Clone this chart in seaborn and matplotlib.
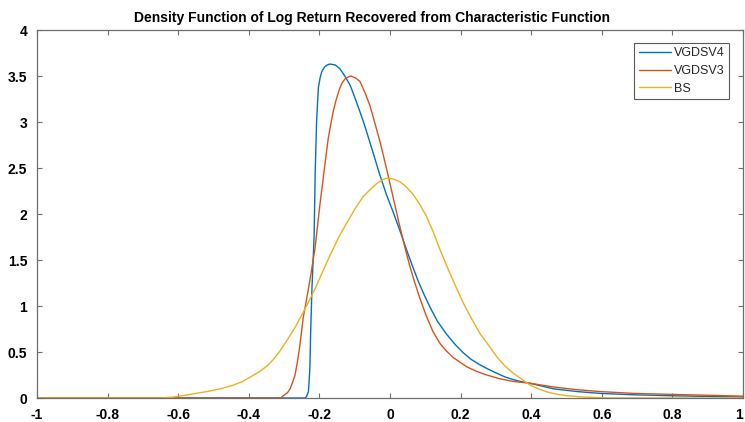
import matplotlib
matplotlib.use("Agg")
import matplotlib.pyplot as plt
import seaborn as sns

# curves
vg4_x = [-1.0, -0.24, -0.236, -0.231, -0.227, -0.225, -0.221, -0.215, -0.212, -0.208,
         -0.203, -0.198, -0.193, -0.185, -0.178, -0.170, -0.155, -0.142, -0.128, -0.113,
         -0.099, -0.085, -0.075, -0.057, -0.045, -0.030, -0.010, 0.009, 0.028, 0.047,
         0.063, 0.080, 0.097, 0.113, 0.135, 0.161, 0.185, 0.208, 0.230, 0.255,
         0.280, 0.302, 0.325, 0.349, 0.370, 0.397, 0.430, 0.463, 0.530, 0.595,
         0.690, 0.793, 0.900, 1.0]
vg4_y = [0.0, 0.0, 0.02, 0.07, 0.32, 0.68, 1.20, 1.75, 2.44, 3.00,
         3.37, 3.48, 3.55, 3.60, 3.62, 3.63, 3.62, 3.58, 3.50, 3.40,
         3.26, 3.11, 3.00, 2.78, 2.63, 2.44, 2.21, 2.02, 1.82, 1.61,
         1.44, 1.27, 1.12, 0.99, 0.83, 0.69, 0.58, 0.49, 0.42, 0.36,
         0.31, 0.27, 0.23, 0.20, 0.18, 0.16, 0.13, 0.10, 0.07, 0.05,
         0.035, 0.025, 0.017, 0.01]

vg3_x = [-1.0, -0.31, -0.300, -0.290, -0.283, -0.276, -0.269, -0.262, -0.255, -0.246,
         -0.236, -0.230, -0.221, -0.212, -0.205, -0.198, -0.192, -0.187, -0.175, -0.168,
         -0.161, -0.152, -0.142, -0.135, -0.127, -0.118, -0.111, -0.098, -0.085, -0.070,
         -0.057, -0.043, -0.028, -0.019, -0.009, 0.000, 0.009, 0.025, 0.042, 0.055,
         0.068, 0.085, 0.104, 0.122, 0.142, 0.160, 0.179, 0.198, 0.217, 0.245,
         0.274, 0.310, 0.349, 0.397, 0.430, 0.463, 0.530, 0.595, 0.690, 0.793,
         0.900, 1.0]
vg3_y = [0.0, 0.0, 0.03, 0.06, 0.10, 0.17, 0.25, 0.40, 0.58, 0.87,
         1.08, 1.21, 1.42, 1.64, 1.88, 2.12, 2.30, 2.46, 2.82, 2.97,
         3.11, 3.25, 3.37, 3.43, 3.47, 3.49, 3.50, 3.48, 3.44, 3.31,
         3.18, 2.99, 2.78, 2.64, 2.48, 2.33, 2.18, 1.91, 1.64, 1.45,
         1.28, 1.08, 0.88, 0.72, 0.59, 0.51, 0.44, 0.39, 0.34, 0.29,
         0.25, 0.21, 0.18, 0.16, 0.14, 0.12, 0.09, 0.07, 0.05, 0.04,
         0.03, 0.02]

bs_x = [-1.0, -0.65, -0.614, -0.580, -0.519, -0.480, -0.444, -0.420, -0.397, -0.370,
        -0.345, -0.330, -0.312, -0.293, -0.270, -0.246, -0.230, -0.212, -0.190, -0.170,
        -0.145, -0.123, -0.100, -0.076, -0.055, -0.038, -0.020, -0.009, 0.010, 0.028,
        0.045, 0.066, 0.085, 0.104, 0.123, 0.142, 0.168, 0.190, 0.208, 0.230,
        0.255, 0.280, 0.302, 0.325, 0.349, 0.375, 0.397, 0.420, 0.450, 0.475,
        0.50, 0.55, 0.62, 1.0]
bs_y = [0.0, 0.0, 0.01, 0.03, 0.07, 0.10, 0.14, 0.175, 0.225, 0.285,
        0.36, 0.42, 0.51, 0.62, 0.76, 0.93, 1.05, 1.19, 1.38, 1.55,
        1.75, 1.90, 2.05, 2.19, 2.27, 2.33, 2.375, 2.39, 2.38, 2.35,
        2.30, 2.21, 2.10, 1.97, 1.80, 1.61, 1.37, 1.18, 1.03, 0.87,
        0.70, 0.57, 0.45, 0.35, 0.27, 0.20, 0.14, 0.10, 0.06, 0.04,
        0.025, 0.01, 0.0, 0.0]

series = [("VGDSV4", vg4_x, vg4_y, "#0072BD"),
          ("VGDSV3", vg3_x, vg3_y, "#D95319"),
          ("BS", bs_x, bs_y, "#EDB120")]

x_ticks = [-1, -0.8, -0.6, -0.4, -0.2, 0, 0.2, 0.4, 0.6, 0.8, 1]
x_labels = ["-1", "-0.8", "-0.6", "-0.4", "-0.2", "0", "0.2", "0.4", "0.6", "0.8", "1"]
y_ticks = [0, 0.5, 1, 1.5, 2, 2.5, 3, 3.5, 4]
y_labels = ["0", "0.5", "1", "1.5", "2", "2.5", "3", "3.5", "4"]

sns.set_style("ticks")
plt.rcParams["font.family"] = ["Liberation Sans", "DejaVu Sans"]

fig = plt.figure(figsize=(7.45, 4.22), dpi=100)
ax = fig.add_axes([37 / 745, 1 - 398 / 422, 706 / 745, 368 / 422])

for name, xs, ys, c in series:
    sns.lineplot(x=xs, y=ys, color=c, label=name, ax=ax, estimator=None,
                 linewidth=1.0)

ax.set_xlim(-1, 1)
ax.set_ylim(0, 4)
ax.set_xticks(x_ticks)
ax.set_xticklabels(x_labels, fontweight="bold", fontsize=10)
ax.get_xticklabels()[-1].set_horizontalalignment("right")
ax.set_yticks(y_ticks)
ax.set_yticklabels(y_labels, fontweight="bold", fontsize=10)
ax.tick_params(direction="in", top=True, right=True, length=3.6, width=0.8,
               color="#6e6e6e", labelcolor="black")
ax.tick_params(axis="x", pad=7)
ax.tick_params(axis="y", pad=7)
for s in ax.spines.values():
    s.set_visible(True)
    s.set_color("#6e6e6e")
    s.set_linewidth(0.9)

ax.set_title("Density Function of Log Return Recovered from Characteristic Function",
             fontweight="bold", fontsize=10, color="black", x=0.475, pad=6)

leg = ax.legend(loc="upper right", bbox_to_anchor=(0.980, 0.9647), borderaxespad=0,
                fontsize=9, fancybox=False, handlelength=2.6, handletextpad=0.2,
                labelspacing=0.45, borderpad=0.35)
leg.get_frame().set_edgecolor("#595959")
leg.get_frame().set_linewidth(0.8)
leg.get_frame().set_alpha(1)
for t in leg.get_texts():
    t.set_color("#262626")

fig.savefig("out.png", dpi=100)
